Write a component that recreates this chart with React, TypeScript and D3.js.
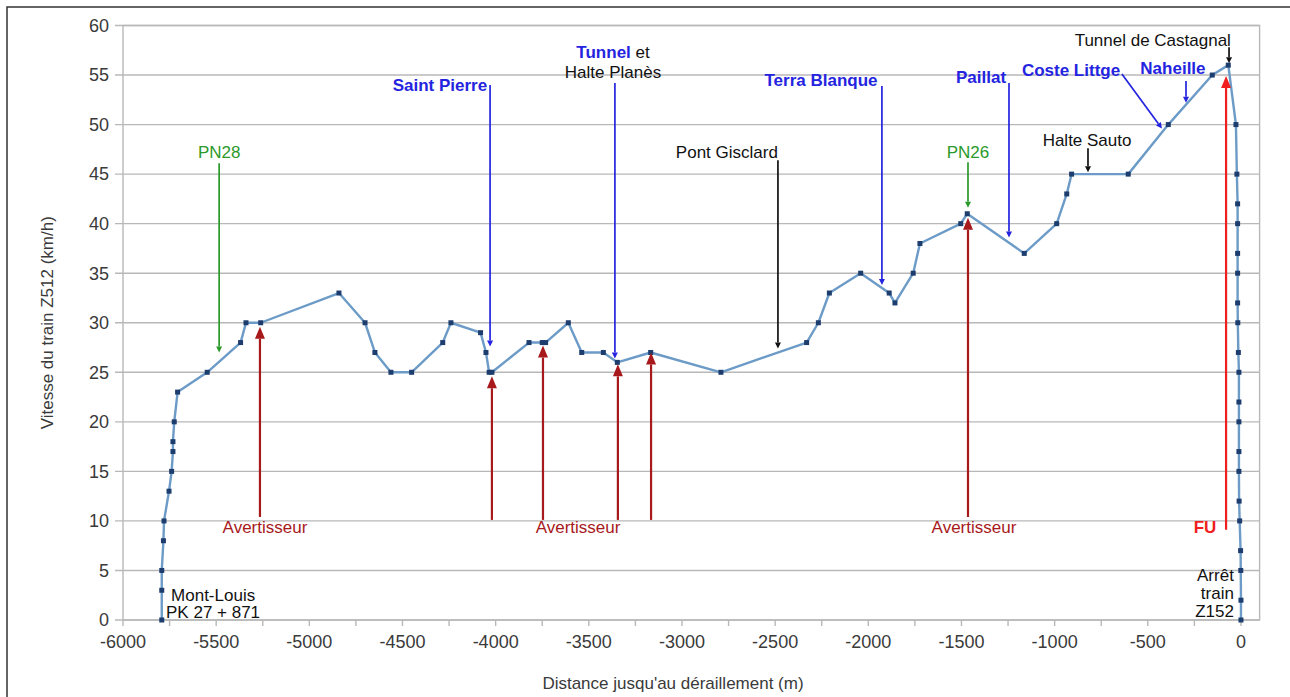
import React from "react";
import * as d3 from "d3";

// Distance to derailment (m) and train speed (km/h)
const distance = [
  -5792, -5792, -5792, -5783, -5780, -5753, -5739, -5732, -5732, -5725, -5707,
  -5548, -5369, -5340, -5261, -4841, -4701, -4648, -4562, -4451, -4284, -4240,
  -4081, -4052, -4035, -4020, -3821, -3750, -3732, -3610, -3538, -3422, -3347,
  -3168, -2791, -2331, -2268, -2209, -2041, -1888, -1857, -1759, -1723, -1504,
  -1469, -1163, -989, -935, -909, -605, -390, -154, -68, -27, -22, -18, -18,
  -18, -18, -18, -17, -14, -11, -11, -11, -11, -11, -10, -7, -2, -1, 0, 0,
];
const speed = [
  0, 3, 5, 8, 10, 13, 15, 17, 18, 20, 23, 25, 28, 30, 30, 33, 30, 27, 25, 25,
  28, 30, 29, 27, 25, 25, 28, 28, 28, 30, 27, 27, 26, 27, 25, 28, 30, 33, 35,
  33, 32, 35, 38, 40, 41, 37, 40, 43, 45, 45, 50, 55, 56, 50, 45, 42, 40, 37,
  35, 32, 30, 27, 25, 22, 20, 17, 15, 12, 10, 7, 5, 2, 0,
];

const xTicks = [-6000, -5500, -5000, -4500, -4000, -3500, -3000, -2500, -2000, -1500, -1000, -500, 0];
const yTicks = [0, 5, 10, 15, 20, 25, 30, 35, 40, 45, 50, 55, 60];

const xTitle = "Distance jusqu'au déraillement (m)";
const yTitle = "Vitesse du train Z512 (km/h)";

type Arrow = { x1: number; y1: number; x2: number; y2: number; kind: string };
const arrows: Arrow[] = [
  { x1: -5484, y1: 46.1, x2: -5484, y2: 27.0, kind: "green" },
  { x1: -5265, y1: 10.4, x2: -5265, y2: 29.6, kind: "darkred" },
  { x1: -4030, y1: 54.0, x2: -4030, y2: 27.6, kind: "blue" },
  { x1: -4020, y1: 10.1, x2: -4020, y2: 24.6, kind: "darkred" },
  { x1: -3746, y1: 10.1, x2: -3746, y2: 27.7, kind: "darkred" },
  { x1: -3344, y1: 10.1, x2: -3344, y2: 25.8, kind: "darkred" },
  { x1: -3166, y1: 10.1, x2: -3166, y2: 27.0, kind: "darkred" },
  { x1: -3360, y1: 54.2, x2: -3360, y2: 26.4, kind: "blue" },
  { x1: -2485, y1: 46.4, x2: -2485, y2: 27.4, kind: "black" },
  { x1: -1927, y1: 53.9, x2: -1927, y2: 33.8, kind: "blue" },
  { x1: -1465, y1: 46.2, x2: -1465, y2: 41.6, kind: "green" },
  { x1: -1465, y1: 10.4, x2: -1465, y2: 40.6, kind: "darkred" },
  { x1: -1245, y1: 54.2, x2: -1245, y2: 38.6, kind: "blue" },
  { x1: -639, y1: 55.1, x2: -424, y2: 49.6, kind: "blue" },
  { x1: -295, y1: 54.4, x2: -295, y2: 52.2, kind: "blue" },
  { x1: -64, y1: 57.8, x2: -64, y2: 56.2, kind: "black" },
  { x1: -821, y1: 47.6, x2: -821, y2: 45.2, kind: "black" },
  { x1: -80, y1: 9.1, x2: -80, y2: 54.9, kind: "red" },
];

type Label = { text: string; x: number; y: number; kind: string; bold?: boolean; anchor?: string };
const labels: Label[] = [
  { text: "PN28", x: -5484, y: 47.2, kind: "green" },
  { text: "Avertisseur", x: -5238, y: 9.4, kind: "darkred" },
  { text: "Saint Pierre", x: -4299, y: 54.0, kind: "blue", bold: true },
  { text: "Avertisseur", x: -3558, y: 9.4, kind: "darkred" },
  { text: "Halte Planès", x: -3370, y: 55.3, kind: "black" },
  { text: "Pont Gisclard", x: -2759, y: 47.2, kind: "black" },
  { text: "Terra Blanque", x: -2254, y: 54.45, kind: "blue", bold: true },
  { text: "PN26", x: -1465, y: 47.2, kind: "green" },
  { text: "Avertisseur", x: -1433, y: 9.4, kind: "darkred" },
  { text: "Paillat", x: -1395, y: 54.75, kind: "blue", bold: true },
  { text: "Coste Littge", x: -912, y: 55.46, kind: "blue", bold: true },
  { text: "Naheille", x: -365, y: 55.66, kind: "blue", bold: true },
  { text: "Tunnel de Castagnal", x: -54, y: 58.5, kind: "black", anchor: "end" },
  { text: "Halte Sauto", x: -826, y: 48.4, kind: "black" },
  { text: "FU", x: -193, y: 9.4, kind: "red", bold: true },
  { text: "Mont-Louis", x: -5742, y: 2.5, kind: "black", anchor: "start" },
  { text: "PK 27 + 871", x: -5769, y: 0.8, kind: "black", anchor: "start" },
  { text: "Arrêt", x: -38, y: 4.5, kind: "black", anchor: "end" },
  { text: "train", x: -38, y: 2.7, kind: "black", anchor: "end" },
  { text: "Z152", x: -38, y: 0.9, kind: "black", anchor: "end" },
];

const colors: Record<string, string> = {
  green: "#2a9a2a",
  darkred: "#a8191c",
  red: "#f01e1e",
  blue: "#2424e0",
  black: "#111111",
};

const W = 1290;
const H = 697;
const FONT = "'Liberation Sans', Arial, sans-serif";

export default function App() {
  const x = d3.scaleLinear().domain([-6000, 100]).range([123, 1259.6]);
  const y = d3.scaleLinear().domain([0, 60]).range([620, 25.5]);
  const pts = distance.map((d, i) => [x(d), y(speed[i])] as [number, number]);
  const line = d3.line()(pts) || "";
  const minorTicks = d3.range(-6000, 1, 250);

  const renderArrow = (a: Arrow, i: number) => {
    const X1 = x(a.x1), Y1 = y(a.y1), X2 = x(a.x2), Y2 = y(a.y2);
    const big = a.kind === "darkred" || a.kind === "red";
    const len = big ? 12 : 6;
    const half = big ? 5 : 3;
    const ang = Math.atan2(Y2 - Y1, X2 - X1);
    const bx = X2 - len * Math.cos(ang), by = Y2 - len * Math.sin(ang);
    const px = -Math.sin(ang) * half, py = Math.cos(ang) * half;
    const c = colors[a.kind];
    return (
      <g key={"a" + i}>
        <line x1={X1} y1={Y1} x2={bx} y2={by} stroke={c} strokeWidth={big ? 2.2 : 1.7} />
        <polygon points={`${X2},${Y2} ${bx + px},${by + py} ${bx - px},${by - py}`} fill={c} />
      </g>
    );
  };

  return (
    <>
      <style>{`body{margin:0;background:#fff}`}</style>
      <svg width={W} height={H} style={{ display: "block", fontFamily: FONT }}>
        <rect x={0} y={0} width={W} height={H} fill="#fff" />
        <rect x={7} y={7} width={W + 20} height={H + 20} fill="none" stroke="#333" strokeWidth={1.5} />
        {yTicks.map((t) => (
          <line key={"g" + t} x1={115} x2={x(100)} y1={y(t)} y2={y(t)} stroke="#b8b8b8" strokeWidth={1.4} />
        ))}
        <rect x={x(-6000)} y={y(60)} width={x(100) - x(-6000)} height={y(0) - y(60)} fill="none" stroke="#b8b8b8" strokeWidth={1.4} />
        {minorTicks.map((t) => (
          <line key={"t" + t} x1={x(t)} x2={x(t)} y1={y(0)} y2={y(0) + 6} stroke="#b8b8b8" strokeWidth={1.4} />
        ))}
        {yTicks.map((t) => (
          <text key={"yl" + t} x={109} y={y(t)} dy="0.35em" textAnchor="end" fontSize={18} fill="#3a3a3a">
            {t}
          </text>
        ))}
        {xTicks.map((t) => (
          <text key={"xl" + t} x={x(t)} y={648} textAnchor="middle" fontSize={18} fill="#3a3a3a">
            {t}
          </text>
        ))}
        <text x={673} y={689} textAnchor="middle" fontSize={17} fill="#3a3a3a">
          {xTitle}
        </text>
        <text transform={`translate(53,${y(30)}) rotate(-90)`} textAnchor="middle" fontSize={17} fill="#3a3a3a">
          {yTitle}
        </text>
        <path d={line} fill="none" stroke="#6c9bc7" strokeWidth={2.4} strokeLinejoin="round" />
        {pts.map((p, i) => (
          <rect key={"p" + i} x={p[0] - 2.5} y={p[1] - 2.5} width={5} height={5} fill="#1d3d6e" />
        ))}
        {arrows.map(renderArrow)}
        {labels.map((l, i) => (
          <text
            key={"l" + i}
            x={x(l.x)}
            y={y(l.y)}
            dy="0.35em"
            textAnchor={l.anchor || "middle"}
            fontSize={17}
            fontWeight={l.bold ? "bold" : "normal"}
            fill={colors[l.kind]}
          >
            {l.text}
          </text>
        ))}
        <text x={x(-3370)} y={y(57.3)} dy="0.35em" textAnchor="middle" fontSize={17}>
          <tspan fill={colors.blue} fontWeight="bold">Tunnel</tspan>
          <tspan fill={colors.black}> et</tspan>
        </text>
      </svg>
    </>
  );
}
